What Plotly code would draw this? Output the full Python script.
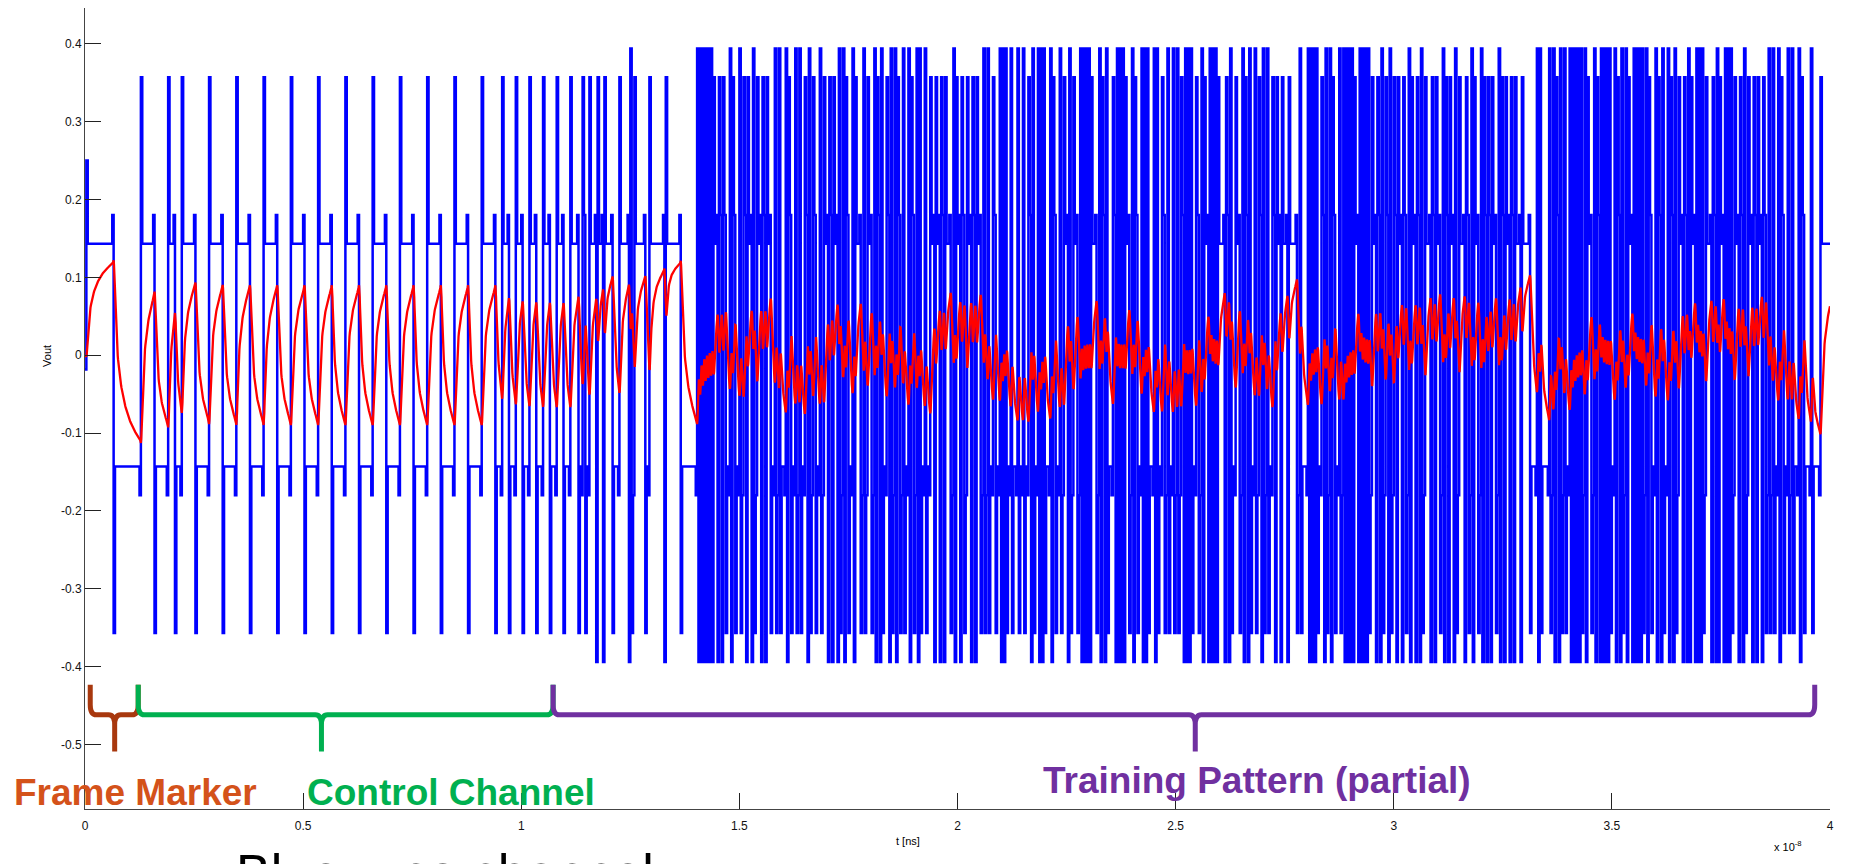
import numpy as np
import plotly.graph_objects as go

# ---------------- data ----------------
# time axis in units of 1e-8 s; one bit (UI) = 31.25 ps
UI = 0.003125
N_BITS = 1279

# transmitter output levels (3-tap FIR):
# run level 0.143, first bit after edge 0.357, last bit before edge 0.18,
# isolated bit 0.395, first bit of the record 0.25
TAP_PRE = -0.0185
TAP_MAIN = 0.2685
TAP_POST = -0.107

# run lengths (in bits), alternating +1 / -1, starting with +1
FRAME_RUNS = [20, 20]
CONTROL_RUNS = [10, 10, 5, 5,
                10, 10, 10, 10, 10, 10, 10, 10, 10, 10, 10, 10,
                10, 10, 10, 10, 10, 10, 10, 10, 10, 10, 10,
                5, 5, 5, 5, 5, 5, 5, 5, 5, 5, 5,
                6, 3, 2, 3, 5, 1, 4, 1, 6, 5, 7, 1, 1, 2, 8, 3, 11, 1, 11, 12]
TRAINING_RUNS_A = [1, 1, 1, 1, 1, 1, 1, 1, 1, 1, 1, 1,
                   3, 1, 2, 1, 2,
                   3, 1, 1, 2, 3, 1, 2,
                   2, 1, 3, 1, 1, 2, 3, 1, 2, 1, 3,
                   3, 1, 2, 1, 4, 1, 1, 2, 3, 1, 2, 1, 3, 2, 1, 1, 2, 2, 3, 1, 2,
                   3, 1, 2, 1, 3, 1, 1, 2, 1, 1, 2, 3, 1, 1, 4, 2, 1, 2, 3,
                   2, 1, 1, 2, 1, 1, 3, 2, 1, 1, 2, 1, 1, 2, 2, 1, 3, 1, 1, 2, 2, 1, 1, 1, 3, 1, 3, 3,
                   1, 3, 1, 2, 1, 4, 2, 1, 1, 3, 1, 2, 2, 3, 1, 2, 1, 3, 2, 1, 2]
TRAINING_RUNS_B = [1, 3, 2, 3, 1, 1, 1, 1, 1, 3, 1, 4, 1, 3, 1, 3, 2, 1, 1, 3, 1, 1, 1, 1, 1, 4, 1, 1, 2, 3, 1, 2,
                   3, 1, 1, 2, 3, 2, 1, 1, 1, 1, 1, 1, 1, 1, 4, 2, 1, 1, 2, 1, 1, 4, 2, 1, 1, 1, 1, 1, 1, 1,
                   3, 2, 1, 1,
                   2, 3, 1, 1, 1, 1, 1, 4, 1, 1, 1, 3, 2, 2, 1, 3, 1, 2, 1, 2,
                   2, 1, 1, 1, 1, 1, 1, 3, 2, 2, 1, 1, 3, 1, 1, 1, 1, 1, 1, 1, 5, 1, 2, 1, 1, 3, 3, 2, 1, 1,
                   2, 1, 1, 3,
                   1, 2, 2, 1, 1, 2, 1, 3, 2, 1,
                   3, 1, 4, 1, 6, 2]
TRAINING_RUNS_C = [1, 5, 1, 1, 1, 1, 1, 1, 1, 3, 2, 1, 1, 2, 1, 1, 2, 3, 1, 2, 1, 1, 1, 1, 1, 1,
                   1, 1, 3, 1, 1, 1, 1, 1, 1, 1,
                   1, 2, 3, 1, 2, 1, 1, 2, 2, 1, 1, 2,
                   2, 1, 3, 1, 2, 2, 1, 1, 3, 1, 2, 1, 1, 2, 4, 1, 2, 1, 3, 2, 1, 1, 2, 1, 3, 1, 1, 2,
                   4, 1, 2, 2, 1, 1, 3, 2, 1, 1, 2, 1,
                   2, 1, 3, 2, 1, 1, 2, 1, 3, 1, 2, 1, 4, 1, 6,
                   5, 1, 1, 1, 6, 1, 2]
TRAINING_RUNS_D = [1, 1, 2, 1, 1, 2, 1, 3, 1, 1, 1, 1, 1, 1, 1, 1, 1, 2, 1, 1, 3, 2, 1, 1, 2, 1, 1, 1,
                   1, 1, 1, 1, 1, 3,
                   1, 1, 2, 1, 1, 2, 1, 1, 3, 1, 1, 1, 1, 1, 1, 1, 1, 2, 1, 1, 2, 3, 1, 1, 2, 1, 1, 3, 1, 1,
                   2, 1, 1, 2, 3, 1, 2, 1, 1, 1, 3, 1, 1, 1, 1, 1, 1, 2, 4, 1, 2, 1, 1, 1, 3, 1, 1, 1, 1,
                   1, 1, 2,
                   3, 1, 2, 1, 1, 2, 3, 1, 2, 1, 3, 1, 2,
                   2, 1, 2, 1, 3, 1, 1, 2, 3, 1, 2, 1, 4, 1, 1, 2, 5, 1, 6,
                   7]

# receiver (red) channel response read from the frame-marker step
CH_GAIN = 0.9
CH_TAU_EDGE = 0.7     # UI
CH_TAU_FAST = 2.0     # UI
CH_TAU_SLOW = 10.0    # UI
CH_FAST_WEIGHT = 0.39

# braces: (start, tip, end, colour)
BRACES = [
    (0.012, 0.068, 0.122, "#A8380E"),
    (0.122, 0.542, 1.073, "#00B050"),
    (1.073, 2.545, 3.965, "#7030A0"),
]
BRACE_Y = (-0.4235, -0.462, -0.509)
LABELS = [
    ("Frame Marker", 0.116, -0.562, "#D4521A"),
    ("Control Channel", 0.84, -0.562, "#00B050"),
    ("Training Pattern (partial)", 2.687, -0.546, "#7030A0"),
]
X_TICKS = [0, 0.5, 1, 1.5, 2, 2.5, 3, 3.5, 4]
X_TICK_TEXT = ["0", "0.5", "1", "1.5", "2", "2.5", "3", "3.5", "4"]
Y_TICKS = [-0.5, -0.4, -0.3, -0.2, -0.1, 0, 0.1, 0.2, 0.3, 0.4]
Y_TICK_TEXT = ["-0.5", "-0.4", "-0.3", "-0.2", "-0.1", "0", "0.1", "0.2", "0.3", "0.4"]

# ---------------- build the traces ----------------
runs = FRAME_RUNS + CONTROL_RUNS + TRAINING_RUNS_A + TRAINING_RUNS_B + TRAINING_RUNS_C + TRAINING_RUNS_D
total = sum(runs)
if total != N_BITS:
    runs[-1] += N_BITS - total
bits = []
sign = 1
for r in runs:
    bits += [sign] * r
    sign = -sign
bits = bits[:N_BITS]
b = np.array([0] + bits + [bits[-1]], dtype=float)   # b[0] = idle, b[1..N] bits
N = N_BITS
levels = np.array([TAP_PRE * b[k + 1] + TAP_MAIN * b[k] + (TAP_POST * b[k - 1] if k > 0 else 0.0)
                   for k in range(N + 1)])
blue_x = np.arange(N + 2) * UI
blue_y = np.append(levels, levels[-1])

SUB = 8
u = np.repeat(levels, SUB)
dt = 1.0 / SUB


def lowpass(x, tau):
    a = 1 - np.exp(-dt / tau)
    y = np.empty_like(x)
    s = 0.0
    for i, v in enumerate(x):
        s += a * (v - s)
        y[i] = s
    return y


edge = lowpass(u, CH_TAU_EDGE)
red = CH_GAIN * (CH_FAST_WEIGHT * lowpass(edge, CH_TAU_FAST) + (1 - CH_FAST_WEIGHT) * lowpass(edge, CH_TAU_SLOW))
red_t = (np.arange(len(red)) + 1) * dt * UI
red_x = np.concatenate([[0.0], red_t[1::2]])
red_y = np.concatenate([[0.0], red[1::2]])

fig = go.Figure()
fig.add_trace(go.Scatter(x=blue_x, y=blue_y, mode="lines", line=dict(color="#0000FF", width=2.5, shape="hv"),
                         hoverinfo="skip", showlegend=False))
fig.add_trace(go.Scatter(x=red_x, y=red_y, mode="lines", line=dict(color="#FF0000", width=2.3),
                         hoverinfo="skip", showlegend=False))

ytop, ymid, ybot = BRACE_Y
rx, ry = 0.014, 0.013
for xl, xt, xr, col in BRACES:
    path = (f"M {xl},{ytop} L {xl},{ymid + ry} Q {xl},{ymid} {xl + rx},{ymid} "
            f"L {xt - rx},{ymid} Q {xt},{ymid} {xt},{ymid - ry} L {xt},{ybot} "
            f"M {xr},{ytop} L {xr},{ymid + ry} Q {xr},{ymid} {xr - rx},{ymid} "
            f"L {xt + rx},{ymid} Q {xt},{ymid} {xt},{ymid - ry}")
    fig.add_shape(type="path", path=path, xref="x", yref="y", line=dict(color=col, width=5))

for txt, x, y, col in LABELS:
    fig.add_annotation(x=x, y=y, xref="x", yref="y", text=f"<b>{txt}</b>", showarrow=False,
                       xanchor="center", yanchor="middle",
                       font=dict(family="Liberation Sans, Arial, sans-serif", size=37, color=col))

fig.add_annotation(x=-0.0264, y=0.5655, xref="paper", yref="paper", text="Vout", textangle=-90,
                   showarrow=False, font=dict(family="Liberation Sans, Arial", size=11, color="#000"))
fig.add_annotation(x=0.4716, y=-0.0499, xref="paper", yref="paper", text="t [ns]",
                   showarrow=False, font=dict(family="Liberation Sans, Arial", size=11, color="#000"))
fig.add_annotation(x=0.985, y=-0.0574, xref="paper", yref="paper", text="x 10<sup>-8</sup>",
                   showarrow=False, font=dict(family="Liberation Sans, Arial", size=11, color="#000"))
fig.add_annotation(x=0.0854, y=-0.041, xref="paper", yref="paper", text="Blue = no channel",
                   xanchor="left", yanchor="top", showarrow=False,
                   font=dict(family="Liberation Sans, Arial", size=52, color="#000"))

fig.update_layout(
    width=1849, height=864,
    margin=dict(l=85, r=19, t=8, b=55),
    paper_bgcolor="white", plot_bgcolor="white",
    xaxis=dict(range=[0, 4], tickvals=X_TICKS, ticktext=X_TICK_TEXT, ticks="inside", ticklen=16,
               tickcolor="#222", showline=True, linecolor="#444", linewidth=1, showgrid=False,
               zeroline=False, ticklabelstandoff=6,
               tickfont=dict(family="Liberation Sans, Arial", size=12, color="#111")),
    yaxis=dict(range=[-0.583, 0.446], tickvals=Y_TICKS, ticktext=Y_TICK_TEXT, ticks="inside", ticklen=16,
               tickcolor="#222", showline=True, linecolor="#444", linewidth=1, showgrid=False,
               zeroline=False,
               tickfont=dict(family="Liberation Sans, Arial", size=12, color="#111")),
)

fig.write_html("out.html")
